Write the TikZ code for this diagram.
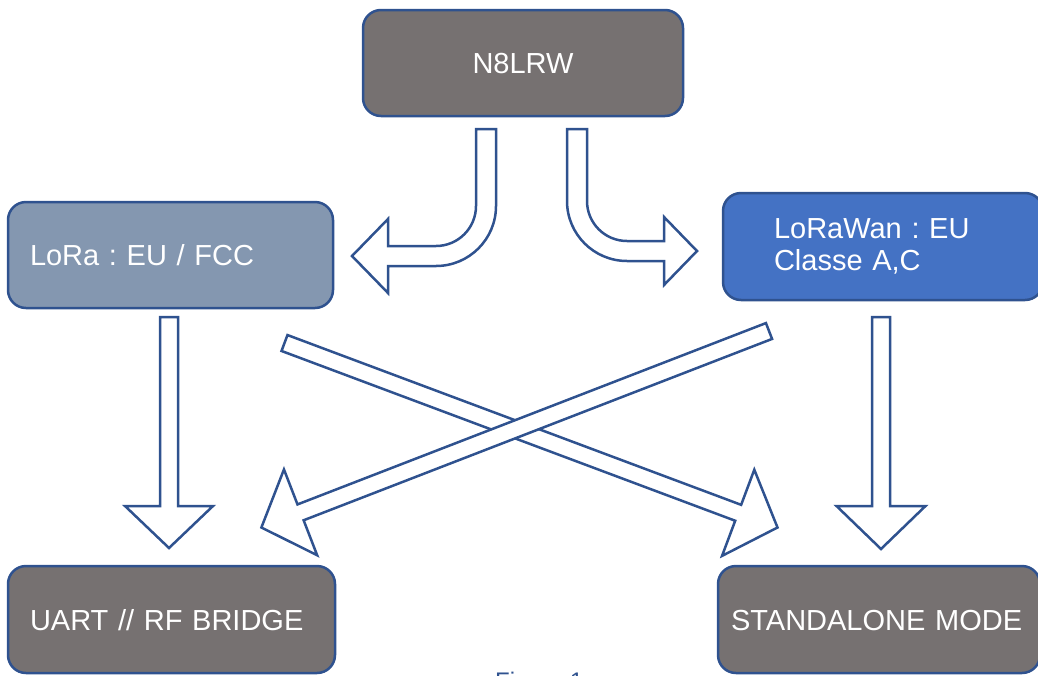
\documentclass[tikz,border=0pt]{standalone}
\usepackage{fontspec}
\setmainfont{Liberation Sans}
\usetikzlibrary{calc}
\frenchspacing
\definecolor{bordc}{HTML}{2F528F}
\definecolor{grayf}{HTML}{767171}
\definecolor{lorab}{HTML}{8497B0}
\definecolor{lorawanb}{HTML}{4472C4}
\newcommand\blkarrow[6]{%
  \coordinate (#1b) at ($(#3)!#6!(#2)$);
  \draw[barrow] ($(#2)!#4!90:(#3)$) -- ($(#1b)!#4!90:(#3)$) -- ($(#1b)!#5!90:(#3)$) -- (#3)
    -- ($(#1b)!#5!-90:(#3)$) -- ($(#1b)!#4!-90:(#3)$) -- ($(#2)!#4!-90:(#3)$) -- cycle;
}
\begin{document}
\begin{tikzpicture}[x=1pt,y=-1pt,
  box/.style={draw=bordc, line width=2.5pt, rounded corners=18pt, text=white,
    font=\fontsize{29}{33}\selectfont, inner ysep=0pt, outer sep=0pt,
    minimum height=106pt, anchor=north west, align=left},
  barrow/.style={draw=bordc, line width=2.5pt, fill=white, line join=miter},
  caption/.style={text=bordc, font=\fontsize{24}{28}\selectfont, inner sep=0pt, anchor=north west}
]
\useasboundingbox (0,0) rectangle (1038,675);

% boxes
\node[box, fill=grayf, minimum width=320pt, text height=21pt, text depth=0pt, align=center] (top) at (363,10) {N8LRW};
\node[box, fill=lorab, inner xsep=22pt, text width=281pt, text height=21pt, text depth=0pt] (lora) at (8,202) {LoRa : EU / FCC};
\node[box, fill=lorawanb, inner xsep=51pt, text width=218pt, minimum height=107pt] (lorawan) at (723,193) {\raisebox{-2pt}{LoRaWan : EU}\\\raisebox{-1pt}{Classe A,C}};
\node[box, fill=grayf, inner xsep=22pt, text width=283pt, minimum height=107pt, text height=21pt, text depth=0pt] (uart) at (8,566) {UART // RF BRIDGE};
\node[box, fill=grayf, inner xsep=13pt, text width=296pt, minimum height=107pt, text height=21pt, text depth=0pt] (stand) at (718,566) {STANDALONE MODE};

% bent arrows from N8LRW
\draw[barrow] (476,129) -- (476,206) arc[start angle=0, end angle=90, radius=40]
  -- (388,246) -- (388,219) -- (352,256) -- (388,293) -- (388,266) -- (436,266)
  arc[start angle=90, end angle=0, radius=60] -- (496,129) -- cycle;
\draw[barrow] (567,129) -- (567,201) arc[start angle=180, end angle=90, radius=60]
  -- (664,261) -- (664,285) -- (697,251) -- (664,217) -- (664,241) -- (627,241)
  arc[start angle=90, end angle=180, radius=40] -- (587,129) -- cycle;

% straight block arrows
\coordinate (ldt) at (169,317); \coordinate (ldp) at (169,548);
\coordinate (rdt) at (881,317); \coordinate (rdp) at (881,549);
\coordinate (at) at (284.5,343); \coordinate (ap) at (777.5,527.5);
\coordinate (bt) at (769,331); \coordinate (bp) at (261.4,527.5);
\blkarrow{ld}{ldt}{ldp}{9pt}{44pt}{42pt}
\blkarrow{rd}{rdt}{rdp}{9pt}{44.5pt}{43pt}
\blkarrow{da}{at}{ap}{8.5pt}{46pt}{42pt}
\blkarrow{db}{bt}{bp}{8.5pt}{46pt}{42pt}

% cut-off caption
\node[caption] (cap) at (495,672) {Figure 1};
\end{tikzpicture}
\end{document}
